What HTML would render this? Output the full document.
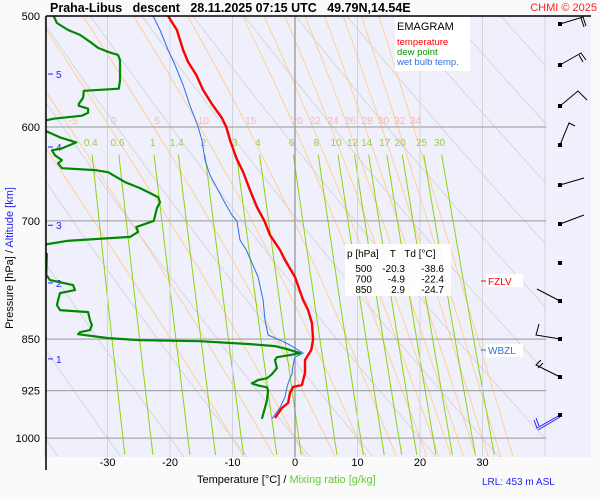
<!DOCTYPE html>
<html><head><meta charset="utf-8"><style>
body{margin:0;background:#fafafa;}
svg{display:block;font-family:"Liberation Sans",sans-serif;}
</style></head><body>
<svg id="chart" width="600" height="500" viewBox="0 0 600 500">
<rect x="0" y="0" width="600" height="500" fill="#fafafa"/>
<rect x="46" y="16" width="545" height="441" fill="#f0f0fc"/>
<defs><clipPath id="cp"><rect x="46" y="16" width="500" height="441"/></clipPath>
<clipPath id="cpd"><rect x="46" y="16" width="545" height="441"/></clipPath></defs>
<g id="bg" clip-path="url(#cp)"></g>
<g id="grid"></g>
<g id="labels"></g>
<g id="series" clip-path="url(#cpd)"></g>
<line x1="46" y1="16" x2="591" y2="16" stroke="#000" stroke-width="1.5"/>
<line x1="46" y1="16" x2="46" y2="470" stroke="#000" stroke-width="1.5"/>
<text x="50" y="12" font-size="12.5" font-weight="bold">Praha-Libus&#160;&#160; descent&#160;&#160; 28.11.2025 07:15 UTC&#160;&#160; 49.79N,14.54E</text>
<text x="597" y="11" font-size="11" fill="#ff2020" text-anchor="end">CHMI © 2025</text>
<text transform="translate(13,258) rotate(-90)" font-size="11" text-anchor="middle"><tspan fill="#000">Pressure [hPa]</tspan><tspan fill="#000">  /  </tspan><tspan fill="#2020ff">Altitude [km]</tspan></text>
<text x="197" y="483" font-size="11">Temperature [°C]  /  <tspan fill="#66cc33">Mixing ratio [g/kg]</tspan></text>
<text x="482" y="485" font-size="10" fill="#2020ff">LRL: 453 m ASL</text>
<g>
<rect x="395" y="17" width="75" height="54" fill="#fff"/>
<text x="397" y="30" font-size="11">EMAGRAM</text>
<text x="397" y="45" font-size="9.5" fill="#ff0000">temperature</text>
<text x="397" y="55" font-size="9.5" fill="#009900">dew point</text>
<text x="397" y="65" font-size="9.5" fill="#3070e0">wet bulb temp.</text>
</g>
<g>
<rect x="345" y="244" width="106" height="52" fill="#fff" opacity="0.9"/>
<text x="347" y="257" font-size="10">p [hPa]&#160;&#160;&#160;&#160;T&#160;&#160;&#160;Td [°C]</text>
<g font-size="10" text-anchor="end" id="tbl"></g>
</g>
<g><line x1="481" y1="281" x2="487" y2="281" stroke="#f00"/><rect x="486" y="274" width="37" height="13" fill="#fff"/><text x="488" y="285" font-size="10" fill="#f00">FZLV</text></g>
<g><line x1="481" y1="350" x2="486" y2="350" stroke="#3070e0"/><rect x="486" y="344" width="37" height="13" fill="#fff"/><text x="488" y="354" font-size="10" fill="#3070e0">WBZL</text></g>
<g id="wind" stroke="#000" stroke-width="1" fill="none">
<path d="M560,24 L583,17 L586,26 M581,18 L584,27"/>
<path d="M560,65 L581,53 L586,60 M579,55 L583,62"/>
<path d="M560,106 L578,91 L587,100"/>
<path d="M560,145 L569,123 L575,126"/>
<path d="M560,185 L584,178"/>
<path d="M560,224 L584,215"/>
<path d="M560,301 L537,289"/>
<path d="M560,339 L536,335 L539,324"/>
<path d="M560,377 L536,365 L541,360 M538,368 L543,363"/>
<path d="M560,415 L537,428 L534,420 M539,426 L536,418" stroke="#2020ff"/>
<path d="M560,417 L538,430" stroke="#2020ff"/>
<g fill="#000" stroke="none"><rect x="558" y="22" width="4" height="4"/><rect x="558" y="63" width="4" height="4"/><rect x="558" y="104" width="4" height="4"/><rect x="558" y="143" width="4" height="4"/><rect x="558" y="183" width="4" height="4"/><rect x="558" y="222" width="4" height="4"/><rect x="558" y="261" width="4" height="4"/><rect x="558" y="299" width="4" height="4"/><rect x="558" y="337" width="4" height="4"/><rect x="558" y="375" width="4" height="4"/><rect x="558" y="413" width="4" height="4"/></g>
</g>
</svg>
<script>
const tempP=[500,511.6,528.7,539.2,550.9,564.6,577.7,591.2,600,612.9,631.3,646,665.6,684.2,700,716.4,734.3,746.4,767.5,797.1,810.3,827.8,850,865.2,879.6,898.5,916.4,919.4,928.5,943.9,951.7,967.5];
const tempT=[-20.3,-18.9,-17.9,-17.1,-15.8,-14.7,-13.3,-11.7,-11.0,-10.4,-9.4,-8.3,-7.2,-6.1,-4.9,-4.0,-2.4,-1.6,0,1.3,2.1,2.7,2.9,2.6,1.6,1.6,1.1,-0.3,-0.8,-1.1,-2.1,-3.2];
const dewP=[500,505.8,511.6,515.8,521.6,526.9,530.4,533.1,537.6,555.8,563.4,565.3,571.9,577.5,579.4,582.2,586,588.9,591.8,597,604.4,610.3,615.3,621.4,623.4,628.5,633.6,636.8,642,644,646.2,656.8,663.3,673.2,678.8,685.5,700,707,712.8,718.6,723.4,730.7,739.1,765,771.4,777.8,784.2,788.1,797.2,803.8,810.4,813.1,823.8,830.6,837.5,840.3,843.1,848.6,851.4,852.8,857,859.8,864,869.7,872.6,875.5,879.8,891.5,900.4,906.4,908.9,914,917,920,924.6,940.1,951.1,968.8];
const dewT=[-38.6,-38.1,-36.3,-34.4,-32.8,-31.5,-29.9,-28.3,-28.0,-28.0,-28.2,-33.8,-33.9,-34.6,-34.6,-33.1,-33.1,-34.1,-38.6,-42.4,-39.7,-37.6,-35.0,-37.3,-38.9,-38.4,-37.3,-37.9,-37.3,-32.0,-29.9,-27.2,-24.8,-21.9,-21.6,-22.1,-22.6,-25.4,-25.1,-26.4,-36.5,-42.4,-39.7,-39.8,-39.2,-35.5,-35.2,-37.6,-37.9,-38.1,-37.6,-33.1,-32.8,-32.5,-32.8,-34.4,-34.7,-29.9,-24.8,-15.2,-7.2,-3.2,-1.3,0.8,-0.8,-2.9,-3.2,-2.9,-3.7,-4.5,-5.9,-6.9,-5.9,-4.5,-4.3,-4.5,-4.8,-5.3];
const wbP=[500,511.6,528.7,541.9,560,579.4,591.8,600,612.9,633.6,649.3,665.6,679.7,693.2,700,722.3,734.3,767.5,797.2,823.8,844.2,851.4,858.2,869.7,875.5,886.9,900.4,906.4,914,924.6,934.6,951.1,958,968.8];
const wbT=[-22.7,-21.6,-20.3,-19.2,-17.9,-16.8,-16.0,-15.5,-14.9,-14.4,-13.6,-12.3,-11.2,-10.1,-9.3,-8.8,-7.8,-5.9,-5.1,-4.8,-4.3,-2.4,-0.8,1.3,0,-0.3,-0.5,-0.8,-1.1,-1.4,-1.6,-2.4,-2.9,-3.7];
const pLevels=[500,600,700,850,925,1000];
const tTicks=[-30,-20,-10,0,10,20,30];
const isotherms=[-40,-30,-20,-10,0,10,20,30,40];
const altKm=[5,4,3,2,1];
const altP=[550,620,705,775,878];
const mixRatios=[0.4,0.6,1,1.4,2,3,4,6,8,10,12,14,17,20,25,30];
const thetaW=[-10,-5,0,5,10,15,20,22,24,26,28,30,32,34];
const thetaWLabels=[-5,0,5,10,15,20,22,24,26,28,30,32,34];
const thetaDry=[-40,-30,-20,-10,0,10,20,30,40,50,60,70,80,90,100,110,120];
const tableP=["500","700","850"];
const tableT=["-20.3","-4.9","2.9"];
const tableTd=["-38.6","-22.4","-24.7"];

const NS="http://www.w3.org/2000/svg";
function xT(t){return 107.5+(t+30)*6.25;}
function yP(p){return 16+609*Math.log(p/500);}
function mk(tag,attrs,parent){const e=document.createElementNS(NS,tag);for(const k in attrs)e.setAttribute(k,attrs[k]);parent.appendChild(e);return e;}
const bg=document.getElementById('bg'),grid=document.getElementById('grid'),lab=document.getElementById('labels'),ser=document.getElementById('series');
function es(T){return 6.112*Math.exp(17.67*T/(T+243.5));}
function tdFromE(e){const l=Math.log(e/6.112);return 243.5*l/(17.67-l);}
thetaDry.forEach(th=>{let d='';for(let p=480;p<=1040;p+=20){const T=(th+273.15)*Math.pow(p/1000,0.286)-273.15;d+=(d?'L':'M')+xT(T).toFixed(1)+','+yP(p).toFixed(1);}
const e=mk('path',{d:d,stroke:'#d6d6dc','stroke-width':1,fill:'none'},bg);

});
function moist(tw){const Rd=287,cp=1005,L=2.5e6,eps=0.622;
 function step(T,p,dp){const Tk=T+273.15;const e=es(T);const rs=eps*e/(p-e);const dTdp=(Rd*Tk+L*rs)/(p*(cp+L*L*rs*eps/(Rd*Tk*Tk)));return T+dTdp*dp;}
 let T=tw,p=1000;const up=[];while(p>=480){up.push([p,T]);T=step(T,p,-2);p-=2;}
 T=tw;p=1000;const dn=[];while(p<=1040){dn.push([p,T]);T=step(T,p,2);p+=2;}
 return dn.reverse().concat(up.slice(1));}
thetaW.forEach(tw=>{const pts=moist(tw);let d='';pts.forEach((q,i)=>{d+=(i?'L':'M')+xT(q[1]).toFixed(1)+','+yP(q[0]).toFixed(1);});
const e=mk('path',{d:d,stroke:'#ffcc90','stroke-width':0.9,fill:'none'},bg);


if(thetaWLabels.indexOf(tw)>=0){let T600=pts.reduce((a,q)=>Math.abs(q[0]-606)<Math.abs(a[0]-606)?q:a)[1];
const t=mk('text',{x:xT(T600).toFixed(1),y:124,'font-size':10,fill:'#f8b8a8','text-anchor':'middle'},lab);t.textContent=tw;

}});
mixRatios.forEach(w=>{let d='';for(let p=628;p<=1032;p+=8){const e=w*p/(622+w);d+=(d?'L':'M')+xT(tdFromE(e)).toFixed(1)+','+yP(p).toFixed(1);}
const l=mk('path',{d:d,stroke:'#8cd40a','stroke-width':1,fill:'none'},bg);


const e=w*615/(622+w);const t=mk('text',{x:xT(tdFromE(e)).toFixed(1),y:146,'font-size':10,fill:'#99cc44','text-anchor':'middle'},lab);t.textContent=w;

});
isotherms.forEach(t=>{const l=mk('line',{x1:xT(t),y1:16,x2:xT(t),y2:457,stroke:t===0?'#909090':'#d4d4d8','stroke-width':t===0?1.2:1},grid);

});
tTicks.forEach(t=>{const e=mk('text',{x:xT(t),y:466,'font-size':11,'text-anchor':'middle'},lab);e.textContent=t;

});
pLevels.forEach(p=>{if(p!==500){const l=mk('line',{x1:46,y1:yP(p),x2:546,y2:yP(p),stroke:'#a8a8a8','stroke-width':1.2},grid);

}
const e=mk('text',{x:40,y:yP(p)+4,'font-size':11,'text-anchor':'end'},lab);e.textContent=p;

});
altKm.forEach((k,i)=>{const y=yP(altP[i]);mk('line',{x1:48,y1:y,x2:53,y2:y,stroke:'#2020ff'},lab);
const e=mk('text',{x:56,y:y+4,'font-size':10,fill:'#2020ff'},lab);e.textContent=k;

});
function line(P,T,color,w,name){let d='';P.forEach((p,i)=>{d+=(i?'L':'M')+xT(T[i]).toFixed(1)+','+yP(p).toFixed(1);});
const e=mk('path',{d:d,stroke:color,'stroke-width':w,fill:'none','stroke-linejoin':'round'},ser);

}
line(wbP,wbT,'#2a70e8',1,'wet-bulb-line');
line(dewP,dewT,'#008800',2.2,'dew-point-line');
line(tempP,tempT,'#ff0000',2.4,'temperature-line');
const tbl=document.getElementById('tbl');
tableP.forEach((p,i)=>{const y=272+i*10.5;
[[p,372],[tableT[i],405],[tableTd[i],444]].forEach(c=>{const e=mk('text',{x:c[1],y:y},tbl);e.textContent=c[0];

});});
</script>
</body></html>
